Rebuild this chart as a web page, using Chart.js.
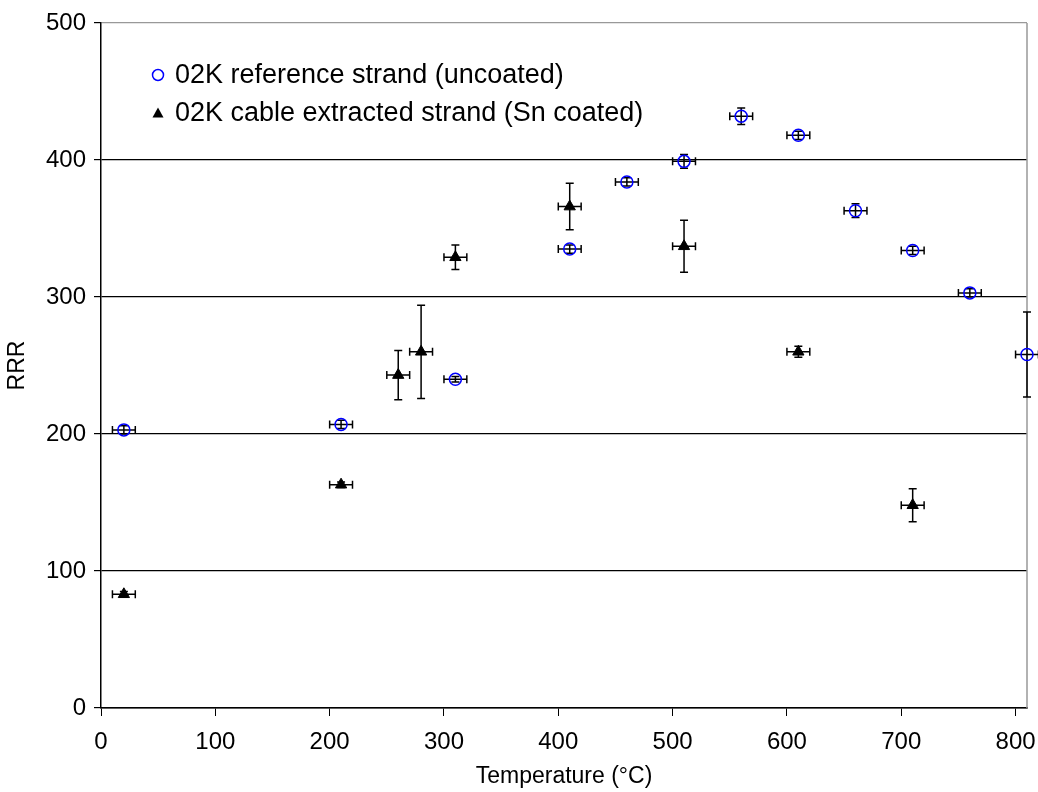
<!DOCTYPE html>
<html>
<head>
<meta charset="utf-8">
<script src="https://cdn.jsdelivr.net/npm/chart.js@4/dist/chart.umd.min.js"></script>
<style>
  html, body { margin: 0; padding: 0; background: #fff; }
</style>
</head>
<body>
<canvas id="myChart" width="1038" height="792"></canvas>
<script>
// reference strand (uncoated)
const refTemp = [20, 210, 310, 410, 460, 510, 560, 610, 660, 710, 760, 810];
const refRRR  = [203, 207, 240, 335, 384, 399, 432, 418, 363, 334, 303, 258];
const refErrY = [3, 3, 2, 3, 3, 5, 6, 3, 5, 3, 3, 31];
// cable extracted strand (Sn coated)
const cabTemp = [20, 210, 260, 280, 310, 410, 510, 610, 710];
const cabRRR  = [83, 163, 243, 260, 329, 366, 337, 260, 148];
const cabErrY = [2, 2, 18, 34, 9, 17, 19, 4, 12];
const errX = 10;

const xTicks = [0, 100, 200, 300, 400, 500, 600, 700, 800];
const yTicks = [0, 100, 200, 300, 400, 500];

const legendLabels = ["02K reference strand (uncoated)", "02K cable extracted strand (Sn coated)"];
const FONT = "'Liberation Sans', Arial, sans-serif";

function toPoints(xs, ys, es) {
  return xs.map((x, i) => ({ x: x, y: ys[i], e: es[i] }));
}

// error bars + right border + legend, all placed through the scales
const errorBars = {
  id: "errorBars",
  beforeDatasetsDraw(chart) {
    const c = chart.ctx;
    const a = chart.chartArea;
    const xs = chart.scales.x, ys = chart.scales.y;
    const cap = 4;
    c.save();
    // right border of plot area (under the marks)
    c.strokeStyle = "#999";
    c.lineWidth = 1.5;
    c.beginPath();
    c.moveTo(a.right, a.top); c.lineTo(a.right, a.bottom);
    c.stroke();

    c.strokeStyle = "#000";
    c.lineWidth = 1.5;
    chart.data.datasets.forEach((ds) => {
      ds.data.forEach((p) => {
        const px = xs.getPixelForValue(p.x);
        const py = ys.getPixelForValue(p.y);
        const x1 = xs.getPixelForValue(p.x - errX), x2 = xs.getPixelForValue(p.x + errX);
        const y1 = ys.getPixelForValue(p.y + p.e), y2 = ys.getPixelForValue(p.y - p.e);
        c.beginPath();
        c.moveTo(x1, py); c.lineTo(x2, py);
        c.moveTo(x1, py - cap); c.lineTo(x1, py + cap);
        c.moveTo(x2, py - cap); c.lineTo(x2, py + cap);
        c.moveTo(px, y1); c.lineTo(px, y2);
        c.moveTo(px - cap, y1); c.lineTo(px + cap, y1);
        c.moveTo(px - cap, y2); c.lineTo(px + cap, y2);
        c.stroke();
      });
    });
    c.restore();
  },
  afterDraw(chart) {
    const c = chart.ctx;
    c.save();
    // legend inside the plot
    c.font = "27px " + FONT;
    c.textBaseline = "middle";
    c.fillStyle = "#000";
    const lx = 158, ly = [75, 113];
    c.strokeStyle = "#0000ff";
    c.lineWidth = 1.5;
    c.beginPath();
    c.arc(lx, ly[0], 5.5, 0, Math.PI * 2);
    c.stroke();
    c.beginPath();
    c.moveTo(lx, ly[1] - 5.5); c.lineTo(lx + 5.5, ly[1] + 4.5); c.lineTo(lx - 5.5, ly[1] + 4.5);
    c.closePath();
    c.fill();
    c.fillText(legendLabels[0], lx + 17, ly[0] + 1);
    c.fillText(legendLabels[1], lx + 17, ly[1] + 1);
    c.restore();
  }
};

const ctx = document.getElementById("myChart");
const myChart = new Chart(ctx, {
  type: "scatter",
  data: {
    datasets: [
      {
        label: legendLabels[0],
        data: toPoints(refTemp, refRRR, refErrY),
        pointStyle: "circle",
        pointRadius: 6,
        pointBorderWidth: 1.5,
        borderColor: "#0000ff",
        backgroundColor: "rgba(0,0,0,0)",
        clip: false,
      },
      {
        label: legendLabels[1],
        data: toPoints(cabTemp, cabRRR, cabErrY),
        pointStyle: "triangle",
        pointRadius: 6.5,
        pointBorderWidth: 1,
        borderColor: "#000",
        backgroundColor: "#000",
        clip: false,
      },
    ],
  },
  options: {
    responsive: false,
    animation: false,
    layout: { padding: { top: 23, right: 11, left: 0, bottom: 0 } },
    plugins: { legend: { display: false }, tooltip: { enabled: false } },
    scales: {
      x: {
        type: "linear",
        min: 0,
        max: 810,
        afterBuildTicks: (s) => { s.ticks = xTicks.map((v) => ({ value: v })); },
        afterFit: (s) => { s.height = 84; s.paddingLeft = 0; s.paddingRight = 0; },
        grid: { drawOnChartArea: false, tickLength: 8, tickColor: "#000", tickWidth: 1 },
        border: { color: "#000", width: 1.5 },
        ticks: { color: "#000", font: { family: FONT, size: 24 }, padding: 12, maxRotation: 0 },
        title: { display: true, text: "Temperature (°C)", color: "#000", font: { family: FONT, size: 23 }, padding: { top: 0, bottom: 2 } },
      },
      y: {
        min: 0,
        max: 500,
        afterBuildTicks: (s) => { s.ticks = yTicks.map((v) => ({ value: v })); },
        afterFit: (s) => { s.width = 101; s.paddingTop = 0; s.paddingBottom = 0; },
        grid: {
          color: (c) => (c.tick && c.tick.value === 500 ? "#999" : "#000"),
          lineWidth: 1.2,
          tickLength: 7,
          tickColor: "#000",
        },
        border: { color: "#000", width: 1.5 },
        ticks: { color: "#000", font: { family: FONT, size: 24 }, padding: 8 },
        title: { display: true, text: "RRR", color: "#000", font: { family: FONT, size: 23 }, padding: { top: 4, bottom: 4 } },
      },
    },
  },
  plugins: [errorBars],
});
</script>
</body>
</html>
